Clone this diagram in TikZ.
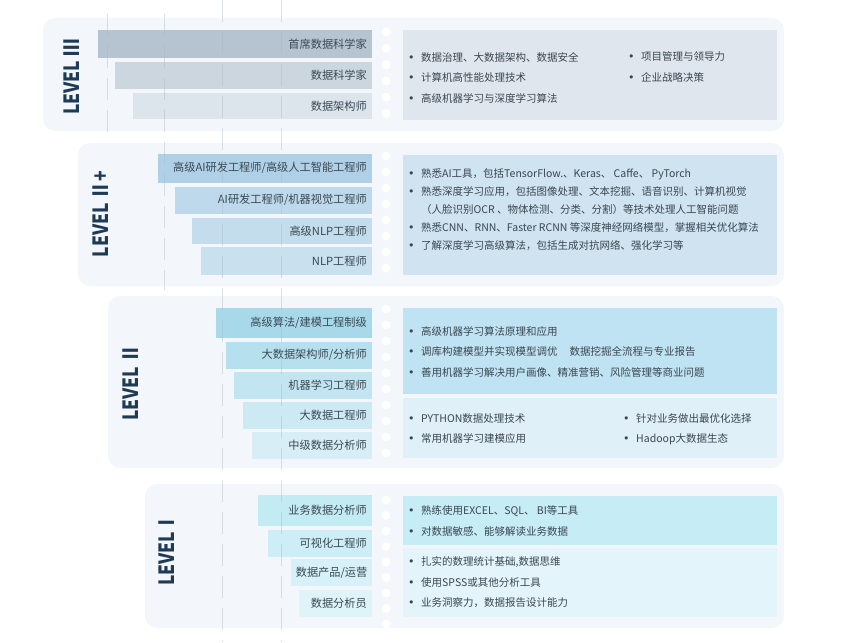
\documentclass[tikz,border=0pt]{standalone}
\usepackage{fontspec}
\usepackage{graphicx}
\newfontfamily\cjk{Noto Sans CJK SC}
\newfontfamily\dejavu{DejaVu Sans}

\definecolor{panel}{HTML}{F3F6FA}
\definecolor{ruler}{HTML}{A9B6C2}
\definecolor{bartext}{HTML}{3A4853}
\definecolor{itemtext}{HTML}{3B4650}
\definecolor{lvtext}{HTML}{1E3A55}
% level III
\definecolor{b3a}{HTML}{B5C4D0}
\definecolor{b3b}{HTML}{CBD6DF}
\definecolor{b3c}{HTML}{DCE4EC}
\definecolor{box3}{HTML}{DFE6EE}
% level II+
\definecolor{b2pa}{HTML}{AFD0E6}
\definecolor{b2pb}{HTML}{BDD9EB}
\definecolor{b2pc}{HTML}{C3DDEC}
\definecolor{b2pd}{HTML}{C9E0EE}
\definecolor{box2p}{HTML}{CFE3F0}
% level II
\definecolor{b2a}{HTML}{A8D9EA}
\definecolor{b2b}{HTML}{B7E0EF}
\definecolor{b2c}{HTML}{C3E5F2}
\definecolor{b2d}{HTML}{CDE9F4}
\definecolor{b2e}{HTML}{D8EEF7}
\definecolor{box2a}{HTML}{BFE3F2}
\definecolor{box2b}{HTML}{E0F0F8}
% level I
\definecolor{b1a}{HTML}{C3EBF4}
\definecolor{b1b}{HTML}{CDEEF6}
\definecolor{b1c}{HTML}{D6F1F8}
\definecolor{b1d}{HTML}{DEF4F9}
\definecolor{box1a}{HTML}{C6ECF5}
\definecolor{box1b}{HTML}{E3F4FA}

\newcommand{\bul}{\makebox[13pt][l]{\dejavu\fontsize{11}{11}\selectfont •}}

\begin{document}
\begin{tikzpicture}[x=1pt, y=-1pt,
	bar/.style={anchor=east, inner xsep=5pt, inner ysep=0pt, align=right, text=bartext, font=\cjk\fontsize{11.2}{13}\selectfont},
	item/.style={anchor=west, inner sep=0pt, align=left, text=itemtext, font=\cjk\fontsize{10.5}{20.5}\selectfont},
	level/.style={rotate=90, inner sep=0pt, text=lvtext, font=\cjk\bfseries\fontsize{21}{21}\selectfont},
	rule/.style={ruler, opacity=.4, line width=.8pt, dash pattern=on 22pt off 10pt}]
	
	\useasboundingbox (0,0) rectangle (861,642);
	
	% panels
	\fill[panel, rounded corners=12pt] (43,18) rectangle (784,131);
	\fill[panel, rounded corners=12pt] (78,143) rectangle (784,286);
	\fill[panel, rounded corners=12pt] (108,296) rectangle (784,468);
	\fill[panel, rounded corners=12pt] (145,484) rectangle (784,628);
	\foreach \y in {32,48.3,...,125} \fill[white] (386,\y) circle [radius=4.5pt];
	\foreach \y in {156,172,...,282} \fill[white] (386,\y) circle [radius=4.5pt];
	\foreach \y in {309,325,...,464} \fill[white] (386,\y) circle [radius=4.5pt];
	\foreach \y in {500,515.5,...,624} \fill[white] (386,\y) circle [radius=4.5pt];
	
	% right boxes
	\fill[box3] (403,30) rectangle (777,120);
	\fill[box2p] (403,155) rectangle (777,275);
	\fill[box2a] (403,308) rectangle (777,394);
	\fill[box2b] (403,398) rectangle (777,458);
	\fill[box1a] (403,496) rectangle (777,545);
	\fill[box1b] (403,548) rectangle (777,617);
	
	% LEVEL III
	\node[level] (lv3) at (72,77) {\scalebox{0.83}[1]{LEVEL Ⅲ}};
	\node[bar, fill=b3a, text width=264pt, minimum height=28pt] (chief) at (372,44) {首席数据科学家};
	\node[bar, fill=b3b, text width=247pt, minimum height=27pt] (scientist) at (372,75.5) {数据科学家};
	\node[bar, fill=b3c, text width=229pt, minimum height=26pt] (architect) at (372,106) {数据架构师};
	\node[item] (t3a) at (408,77.5) {\bul 数据治理、大数据架构、数据安全\\ \bul 计算机高性能处理技术\\ \bul 高级机器学习与深度学习算法};
	\node[item] (t3b) at (628,67) {\bul 项目管理与领导力\\ \bul 企业战略决策};
	
	% LEVEL II+
	\node[level] (lv2p) at (101,214) {\scalebox{0.83}[1]{LEVEL Ⅱ+}};
	\node[bar, fill=b2pa, text width=204pt, minimum height=29pt] (seniorai) at (372,168) {高级AI研发工程师/高级人工智能工程师};
	\node[bar, fill=b2pb, text width=187pt, minimum height=27pt] (ai) at (372,200) {AI研发工程师/机器视觉工程师};
	\node[bar, fill=b2pc, text width=170pt, minimum height=26pt] (seniornlp) at (372,231) {高级NLP工程师};
	\node[bar, fill=b2pd, text width=161pt, minimum height=28pt] (nlp) at (372,261) {NLP工程师};
	\node[item, font=\cjk\fontsize{10.5}{18}\selectfont] (t2p) at (408,210) {\bul 熟悉AI工具，包括TensorFlow.、Keras、 Caffe、 PyTorch\\ \bul 熟悉深度学习应用，包括图像处理、文本挖掘、语音识别、计算机视觉\\ \hspace*{13pt}（人脸识别OCR 、物体检测、分类、分割）等技术处理人工智能问题\\ \bul 熟悉CNN、RNN、Faster RCNN 等深度神经网络模型，掌握相关优化算法\\ \bul 了解深度学习高级算法，包括生成对抗网络、强化学习等};
	
	% LEVEL II
	\node[level] (lv2) at (131,383) {\scalebox{0.83}[1]{LEVEL Ⅱ}};
	\node[bar, fill=b2a, text width=146pt, minimum height=30pt] (algo) at (372,323) {高级算法/建模工程制级};
	\node[bar, fill=b2b, text width=136pt, minimum height=27pt] (bigarch) at (372,355) {大数据架构师/分析师};
	\node[bar, fill=b2c, text width=128pt, minimum height=27pt] (ml) at (372,385) {机器学习工程师};
	\node[bar, fill=b2d, text width=119pt, minimum height=27pt] (bigdata) at (372,415) {大数据工程师};
	\node[bar, fill=b2e, text width=110pt, minimum height=27pt] (midana) at (372,445) {中级数据分析师};
	\node[item] (t2a) at (408,351.5) {\bul 高级机器学习算法原理和应用\\ \bul 调库构建模型并实现模型调优\hspace{12pt}数据挖掘全流程与专业报告\\ \bul 善用机器学习解决用户画像、精准营销、风险管理等商业问题};
	\node[item, font=\cjk\fontsize{10.5}{20}\selectfont] (t2b) at (408,429) {\bul PYTHON数据处理技术\\ \bul 常用机器学习建模应用};
	\node[item, font=\cjk\fontsize{10.5}{20}\selectfont] (t2c) at (623,429) {\bul 针对业务做出最优化选择\\ \bul Hadoop大数据生态};
	
	% LEVEL I
	\node[level] (lv1) at (167,550) {\scalebox{0.83}[1]{LEVEL\hspace{-5pt} Ⅰ}};
	\node[bar, fill=b1a, text width=104pt, minimum height=31pt] (bizana) at (372,510) {业务数据分析师};
	\node[bar, fill=b1b, text width=94pt, minimum height=27pt] (vis) at (372,543) {可视化工程师};
	\node[bar, fill=b1c, text width=71pt, minimum height=27pt] (product) at (372,572.5) {数据产品/运营};
	\node[bar, fill=b1d, text width=63pt, minimum height=27pt] (analyst) at (372,603.5) {数据分析员};
	\node[item, font=\cjk\fontsize{10.5}{21}\selectfont] (t1a) at (408,521.5) {\bul 熟练使用EXCEL、SQL、 BI等工具\\ \bul 对数据敏感、能够解读业务数据};
	\node[item] (t1b) at (408,582.5) {\bul 扎实的数理统计基础,数据思维\\ \bul 使用SPSS或其他分析工具\\ \bul 业务洞察力，数据报告设计能力};
	
	% rulers
	\draw[rule] (107,14) -- (107,135);
	\draw[rule] (164,14) -- (164,290);
	\draw[rule] (222,0) -- (222,642);
	\draw[rule] (281,0) -- (281,642);
	
\end{tikzpicture}
\end{document}
